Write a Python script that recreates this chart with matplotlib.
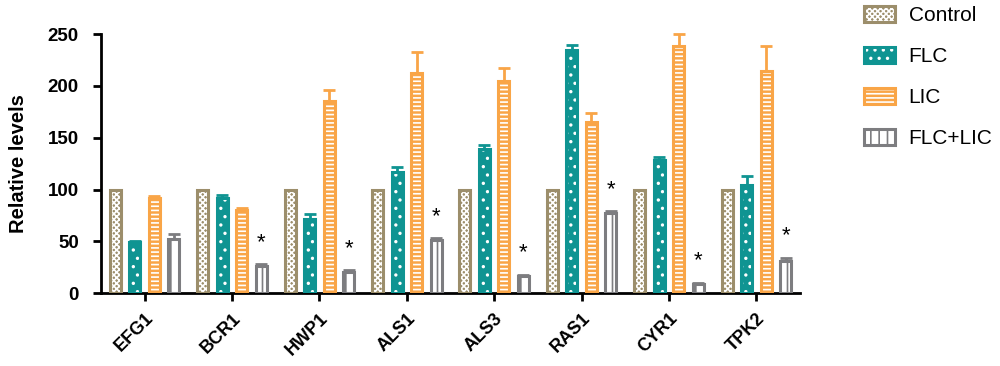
import numpy as np
import matplotlib
matplotlib.use("Agg")
import matplotlib.pyplot as plt
from matplotlib.patches import Patch
from matplotlib.legend_handler import HandlerTuple

plt.rcParams['font.family'] = ['Liberation Sans', 'DejaVu Sans']
plt.rcParams['hatch.linewidth'] = 1.2

genes = ["EFG1", "BCR1", "HWP1", "ALS1", "ALS3", "RAS1", "CYR1", "TPK2"]
groups = ["Control", "FLC", "LIC", "FLC+LIC"]

control = [100, 100, 100, 100, 100, 100, 100, 100]
flc = [49, 92, 72, 117, 139, 235, 128, 104]
lic = [92, 80, 185, 212, 205, 165, 238, 214]
flc_lic = [52, 26, 20, 51, 17, 77, 9, 31]

flc_err = [1, 3, 4, 5, 4, 4, 3, 9]
lic_err = [2, 2, 11, 21, 12, 9, 12, 24]
flc_lic_err = [5, 2, 2, 2, 1, 2, 1, 3]
control_err = [0, 0, 0, 0, 0, 0, 0, 0]

# significance marks on FLC+LIC
star = [False, True, True, True, True, True, True, True]

colors = ["#9c8e6b", "#0f9492", "#f9a547", "#7d7d80"]
faces = ["#9c8e6b", "#0f9492", "#f9a547", "white"]
hatch_cols = ["white", "white", "white", "#7d7d80"]
hatches = ["xxxxxx", "..", "----", "||"]

values = [control, flc, lic, flc_lic]
errors = [control_err, flc_err, lic_err, flc_lic_err]

fig = plt.figure(figsize=(10, 3.66), dpi=100)
ax = fig.add_axes([0.101, 0.199, 0.699, 0.708])

x = np.arange(len(genes))
step = 0.223
width = 0.125

for i, (name, vals, errs) in enumerate(zip(groups, values, errors)):
    pos = x + (i - 1.5) * step
    ax.bar(pos, vals, width, color=faces[i], edgecolor=hatch_cols[i], hatch=hatches[i], linewidth=0, zorder=2)
    ax.bar(pos, vals, width, fill=False, edgecolor=colors[i], linewidth=2.2, zorder=3)
    if i > 0:
        ax.errorbar(pos, vals, yerr=[np.zeros(len(vals)), errs], fmt="none", ecolor=colors[i],
                    elinewidth=2, capsize=4, capthick=2, zorder=1, clip_on=False)
    if name == "FLC+LIC":
        for p, v, e, s in zip(pos, vals, errs, star):
            if s:
                ax.text(p, v + e + 11, "*", ha="center", va="bottom", fontsize=16)

handles = [(Patch(facecolor=faces[i], edgecolor=hatch_cols[i], hatch=hatches[i], linewidth=0),
            Patch(fill=False, edgecolor=colors[i], linewidth=2.2)) for i in range(4)]
fig.legend(handles, groups, loc="upper left", bbox_to_anchor=(0.845, 1.035), frameon=False,
           fontsize=15, handlelength=1.5, handleheight=0.8, labelspacing=1.05, handletextpad=0.65,
           handler_map={tuple: HandlerTuple(ndivide=1, pad=0)})

ax.set_xlim(-0.5, 7.5)
ax.set_ylim(0, 250)
ax.set_yticks([0, 50, 100, 150, 200, 250])
ax.set_xticks(x)
ax.set_xticklabels(genes, rotation=45, ha="right", rotation_mode="anchor", fontweight="bold", fontsize=13)
for t in ax.get_yticklabels():
    t.set_fontweight("bold")
    t.set_fontsize(13.5)
ax.set_ylabel("Relative levels", fontweight="bold", fontsize=14.5)
ax.yaxis.set_label_coords(-0.105, 0.5)

ax.spines["top"].set_visible(False)
ax.spines["right"].set_visible(False)
ax.spines["left"].set_linewidth(2)
ax.spines["bottom"].set_linewidth(2)
ax.tick_params(width=2, length=6)
ax.tick_params(axis="y", pad=10)
ax.tick_params(axis="x", pad=6)

fig.savefig("out.png", dpi=100)
